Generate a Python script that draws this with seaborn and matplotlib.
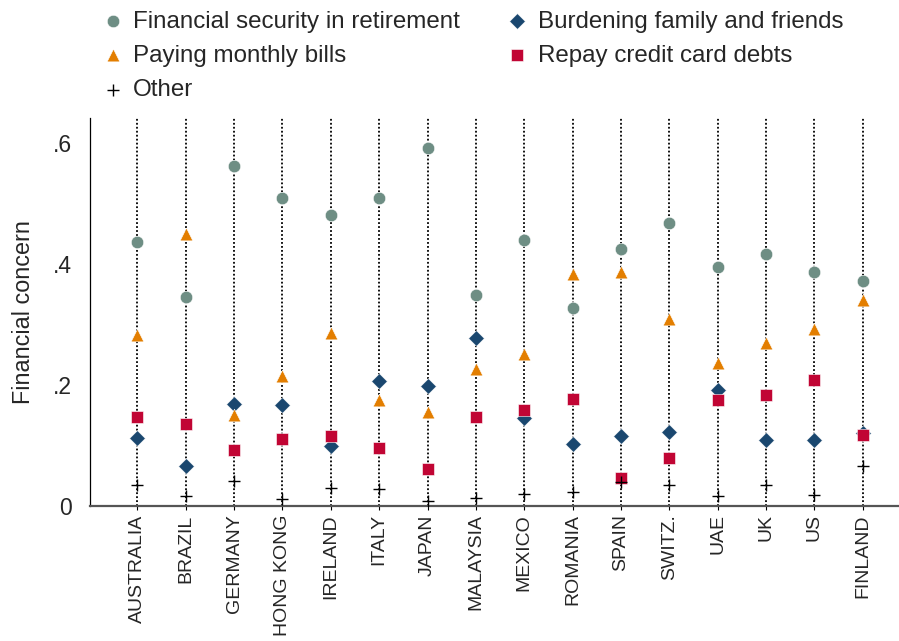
import numpy as np
import pandas as pd
import seaborn as sns
import matplotlib
matplotlib.use("Agg")
import matplotlib.pyplot as plt

countries = ["AUSTRALIA", "BRAZIL", "GERMANY", "HONG KONG", "IRELAND", "ITALY",
             "JAPAN", "MALAYSIA", "MEXICO", "ROMANIA", "SPAIN", "SWITZ.",
             "UAE", "UK", "US", "FINLAND"]

retirement = [0.436, 0.345, 0.562, 0.509, 0.481, 0.509, 0.591, 0.349,
              0.439, 0.327, 0.425, 0.467, 0.395, 0.417, 0.386, 0.371]
burdening = [0.113, 0.066, 0.168, 0.167, 0.099, 0.207, 0.198, 0.278,
             0.145, 0.103, 0.116, 0.123, 0.192, 0.109, 0.109, 0.121]
monthly_bills = [0.282, 0.449, 0.150, 0.215, 0.285, 0.175, 0.155, 0.227,
                 0.251, 0.384, 0.387, 0.309, 0.237, 0.270, 0.293, 0.340]
credit_card = [0.147, 0.135, 0.093, 0.111, 0.116, 0.095, 0.061, 0.147,
               0.158, 0.177, 0.047, 0.080, 0.175, 0.183, 0.208, 0.117]
other = [0.035, 0.017, 0.041, 0.011, 0.030, 0.028, 0.008, 0.014,
         0.020, 0.023, 0.040, 0.035, 0.017, 0.035, 0.018, 0.066]

# label, values, marker, colour, size  (Stata draw order)
series = [
    ("Financial security in retirement", retirement, "o", "#6e8e84", 80),
    ("Burdening family and friends", burdening, "D", "#1a476f", 64),
    ("Paying monthly bills", monthly_bills, "^", "#e37e00", 84),
    ("Repay credit card debts", credit_card, "s", "#c10534", 66),
    ("Other", other, "+", "black", 70),
]

sns.set_style("white")
plt.rcParams["font.family"] = ["Liberation Sans", "DejaVu Sans"]

fig = plt.figure(figsize=(8.99, 6.41), dpi=100)
ax = fig.add_axes([90 / 899, 1 - 506 / 641, 809 / 899, 388 / 641])

xpos = np.arange(len(countries))
ax.vlines(xpos, 0, 0.645, colors="black", linestyles=(0, (1, 1.2)), lw=1.3, zorder=1)

for i, (label, vals, mk, col, size) in enumerate(series):
    df = pd.DataFrame({"x": xpos, "y": vals})
    if mk == "+":
        sns.scatterplot(data=df, x="x", y="y", marker=mk, color=col, s=size,
                        linewidth=1.0, ax=ax, zorder=3 + i, label=label)
    else:
        sns.scatterplot(data=df, x="x", y="y", marker=mk, color=col, s=size,
                        edgecolor="white", linewidth=0.4, ax=ax, zorder=3 + i,
                        label=label)

h, l = ax.get_legend_handles_labels()
ax.get_legend().remove()
lookup = dict(zip(l, h))
order = ["Financial security in retirement", "Paying monthly bills", "Other",
         "Burdening family and friends", "Repay credit card debts"]
fig.legend([lookup[k] for k in order], order, ncol=2, frameon=False,
           loc="upper left", bbox_to_anchor=(79 / 899, 1 + 11 / 641),
           fontsize=17.4, handletextpad=0.35, columnspacing=1.85,
           labelspacing=0.5, handlelength=1.0, markerscale=1.0)

ax.set_xlim(-0.98, 15.75)
ax.set_ylim(0, 0.641)
ax.set_xticks(xpos)
ax.set_xticklabels(countries, rotation=90, fontsize=14)
ax.set_yticks([0, 0.2, 0.4, 0.6])
ax.set_yticklabels(["0", ".2", ".4", ".6"], fontsize=16.5)
ax.tick_params(axis="x", length=3, width=0.8, color="black", pad=3, bottom=True)
ax.tick_params(axis="y", length=0, pad=13)
ax.set_xlabel("")
ax.set_ylabel("Financial concern", fontsize=16.8, labelpad=13)

for side in ["top", "right"]:
    ax.spines[side].set_visible(False)
ax.spines["left"].set_color("black")
ax.spines["left"].set_linewidth(0.9)
ax.spines["bottom"].set_color("#555555")
ax.spines["bottom"].set_linewidth(1.6)

fig.savefig("out.png", dpi=100)
